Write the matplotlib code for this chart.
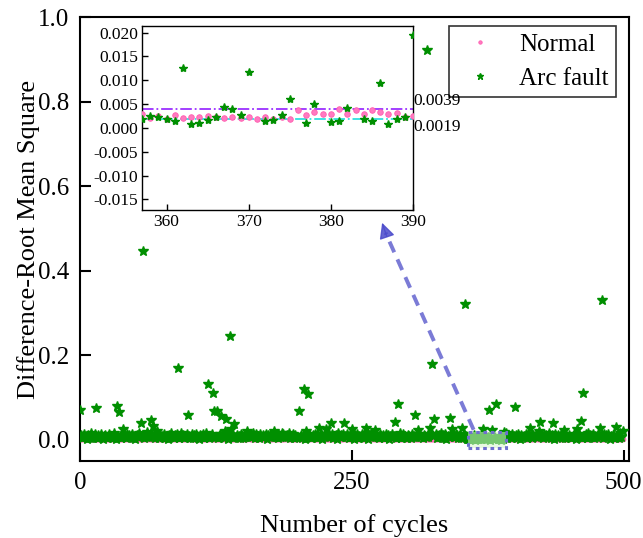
import numpy as np
import matplotlib
matplotlib.use("Agg")
import matplotlib.pyplot as plt
from matplotlib.patches import Rectangle

plt.rcParams['font.family'] = ['Liberation Serif', 'DejaVu Serif']
plt.rcParams['axes.unicode_minus'] = False

# ---------------- data ----------------
# Arc fault baseline, in units of 0.001 (cycles 0..499)
arc_base_milli = [
    6,11,4,9,14,7,3,12,8,5,16,10,4,7,13,9,5,11,6,15,8,3,10,12,7,
    4,9,13,6,10,5,17,8,3,11,7,14,9,5,12,6,10,4,15,8,11,6,9,13,5,
    8,3,12,7,16,10,5,9,14,4,11,7,18,6,9,3,13,8,10,5,12,15,7,4,11,
    9,6,14,5,10,8,3,12,7,16,9,4,11,6,13,8,5,10,17,7,12,4,9,14,6,
    10,5,8,13,4,11,7,15,9,3,12,6,10,14,5,8,16,7,11,4,9,13,6,10,8,
    7,12,5,9,15,6,11,4,13,8,10,3,14,7,9,12,5,16,8,11,6,10,4,13,9,
    5,10,7,14,3,12,8,11,6,16,9,4,13,7,10,5,15,8,12,6,9,14,3,11,7,
    12,6,9,4,13,8,15,5,11,7,10,3,14,9,6,12,8,17,5,10,7,13,4,11,8,
    6,14,8,11,5,9,12,3,16,7,10,13,4,8,11,6,15,9,5,12,7,10,14,3,9,
    9,4,11,7,15,6,10,13,5,8,12,3,16,9,6,11,7,14,4,10,8,13,5,12,6,
    11,7,3,12,8,14,5,10,6,15,9,4,13,7,11,3,12,8,16,6,10,5,14,9,7,
    4,13,9,6,11,5,15,8,12,3,10,7,14,6,9,12,4,11,8,16,5,10,13,7,9,
    8,5,12,10,4,14,7,9,13,6,11,3,15,8,10,5,12,9,6,14,7,11,4,13,8,
    10,7,14,4,9,12,6,16,8,11,5,13,3,10,7,15,9,4,12,8,6,14,11,5,9,
    5,12,8,15,6,10,3,13,9,7,11,14,4,8,16,6,10,12,5,9,13,7,11,4,10,
    13,6,10,4,12,8,15,5,11,9,3,14,7,10,6,12,8,16,4,11,9,5,13,7,10,
    7,11,5,14,9,3,12,8,10,6,15,4,11,13,7,9,5,12,10,6,14,8,3,11,9,
    9,4,13,7,11,6,16,10,5,12,8,3,14,9,6,11,7,13,5,10,15,4,12,8,6,
    12,8,5,10,14,7,3,11,9,15,6,12,4,10,8,13,5,16,7,11,6,9,14,4,10,
    6,10,13,5,9,12,4,15,8,11,7,14,3,10,6,12,9,5,13,8,11,4,16,7,10,
]

# Normal baseline, in units of 0.0001 (cycles 0..499)
normal_base_tenth_milli = [
    25,31,22,28,35,19,27,33,24,30,21,29,36,23,26,32,20,28,34,25,22,30,27,24,31,
    29,23,33,26,20,31,25,37,22,28,34,24,30,19,27,32,26,23,35,28,21,29,33,25,27,
    22,30,26,34,24,28,19,32,27,23,36,25,29,21,31,26,33,24,28,20,30,35,23,27,29,
    31,24,28,21,33,27,25,30,22,35,26,29,23,32,20,28,34,25,27,31,22,26,30,24,33,
    26,34,23,29,25,31,20,27,36,24,30,22,28,33,25,19,32,27,23,29,35,26,21,30,28,
    28,22,31,25,34,27,23,30,19,33,26,29,24,36,21,28,31,25,27,22,30,34,26,23,29,
    24,32,27,20,29,35,25,28,22,31,26,33,23,27,30,21,34,28,24,29,25,32,20,27,31,
    30,26,21,33,27,24,31,25,36,22,28,19,32,26,29,34,23,27,30,25,21,31,28,24,33,
    23,29,34,26,22,30,27,20,33,28,24,31,25,35,21,29,26,32,23,28,34,22,30,27,25,
    32,25,28,23,31,26,35,21,27,30,24,29,33,22,28,25,31,19,34,26,23,30,27,32,24,
    27,33,24,30,21,28,32,26,23,35,29,22,27,31,25,34,20,28,26,30,24,33,29,22,28,
    21,28,30,25,33,24,27,31,20,29,36,23,26,30,28,22,32,25,29,24,31,27,35,23,26,
    29,24,32,27,23,30,26,34,22,28,25,31,21,33,27,24,30,26,35,22,29,25,32,28,23,
    25,31,22,29,34,26,20,30,27,24,32,28,23,35,26,30,22,27,31,25,28,33,21,29,26,
    30,23,27,33,25,29,21,32,26,24,31,28,22,34,27,25,30,23,29,26,33,20,28,31,24,
    26,32,24,28,30,22,35,27,25,29,23,31,27,20,33,26,29,24,32,28,22,30,25,34,27,
    33,27,29,22,26,31,24,28,34,21,30,25,28,32,23,27,31,26,22,29,35,24,27,30,25,
    22,29,25,31,27,23,33,26,30,24,28,35,21,27,32,25,29,23,30,26,24,31,28,22,33,
    28,24,34,26,21,30,27,32,25,29,22,33,28,24,31,26,20,29,34,27,25,30,23,28,26,
    31,26,23,29,33,25,28,22,30,27,35,24,29,26,21,32,27,30,24,28,33,25,22,29,27,
]

# Arc fault outliers (cycle, value)
arc_outlier_x = [0, 15, 34, 36, 40, 56, 58, 65, 67, 71, 90, 99, 118, 122, 123, 126,
                 130, 133, 134, 138, 139, 142, 154, 178, 186, 201, 206, 208, 210,
                 220, 226, 231, 243, 250, 263, 271, 290, 292, 308, 311, 319, 322,
                 324, 326, 340, 342, 351, 354, 400, 414, 422, 423, 435, 445, 457,
                 461, 463, 478, 480, 493, 499]
arc_outlier_y = [0.071, 0.076, 0.081, 0.067, 0.025, 0.039, 0.448, 0.047, 0.032, 0.022,
                 0.170, 0.060, 0.132, 0.112, 0.069, 0.069, 0.057, 0.020, 0.049, 0.247,
                 0.025, 0.037, 0.020, 0.022, 0.017, 0.069, 0.121, 0.020, 0.108,
                 0.029, 0.025, 0.041, 0.040, 0.025, 0.028, 0.024, 0.043, 0.085, 0.059,
                 0.024, 0.923, 0.029, 0.180, 0.050, 0.053, 0.025, 0.028, 0.322, 0.077,
                 0.028, 0.021, 0.043, 0.040, 0.024, 0.025, 0.045, 0.112, 0.028, 0.331,
                 0.030, 0.020]

# Zoomed window (cycles 357..390)
zoom_start = 357
normal_zoom = [0.0030, 0.0021, 0.0025, 0.0019, 0.0028, 0.0022, 0.0024, 0.0023, 0.0025,
               0.0024, 0.0020, 0.0024, 0.0021, 0.0023, 0.0018, 0.0024, 0.0019, 0.0024,
               0.0018, 0.0037, 0.0028, 0.0034, 0.0029, 0.0030, 0.0039, 0.0030, 0.0037,
               0.0030, 0.0038, 0.0034, 0.0029, 0.0031, 0.0024, 0.0025]
arc_zoom = [0.0018, 0.0025, 0.0023, 0.0018, 0.0015, 0.0125, 0.0008, 0.0011, 0.0016,
            0.0024, 0.0043, 0.0039, 0.0028, 0.0118, 0.0270, 0.0015, 0.0017, 0.0027,
            0.0061, 0.0710, 0.0010, 0.0051, 0.0240, 0.0013, 0.0015, 0.0042, 0.0850,
            0.0018, 0.0015, 0.0094, 0.0008, 0.0018, 0.0024, 0.0195]
upper_level = 0.0039
lower_level = 0.0019

# assemble series
arc = np.array(arc_base_milli, dtype=float) / 1000.0
normal = np.array(normal_base_tenth_milli, dtype=float) / 10000.0
arc[np.array(arc_outlier_x)] = arc_outlier_y
idx = np.arange(zoom_start, zoom_start + len(arc_zoom))
arc[idx] = arc_zoom
normal[idx] = normal_zoom
cycles = np.arange(len(arc))

# ---------------- figure ----------------
fig = plt.figure(figsize=(6.43, 5.38), dpi=100)
ax = fig.add_axes([0.1244, 0.143, 0.854, 0.825])

pink = '#ff5cb0'
green = '#008f00'

ax.plot(cycles, normal, 'o', ls='none', ms=3.5, mfc='#ff7ac0', mec=pink, mew=0.6,
        label='Normal', zorder=2)
ax.plot(cycles, arc, '*', ls='none', ms=7, color=green, label='Arc fault', zorder=3)

ax.set_xlim(0, 505)
ax.set_ylim(-0.05, 1.0)
ax.set_xticks([0, 250, 500])
ax.set_yticks([0.0, 0.2, 0.4, 0.6, 0.8, 1.0])
ax.set_yticklabels(['0.0', '0.2', '0.4', '0.6', '0.8', '1.0'])
ax.tick_params(direction='in', length=8, width=1.5, labelsize=18, pad=8)
for s in ax.spines.values():
    s.set_linewidth(1.5)
ax.set_xlabel('Number of cycles', fontsize=19, labelpad=14)
ax.set_ylabel('Difference-Root Mean Square', fontsize=19)
ax.yaxis.set_label_coords(-0.072, 0.5)

leg = ax.legend(loc='upper right', bbox_to_anchor=(0.976, 0.980), fontsize=18,
                frameon=True, fancybox=False, edgecolor='black',
                handletextpad=0.6, borderaxespad=0.0, handlelength=1.9,
                labelspacing=0.45, borderpad=0.3, markerscale=0.7)
leg.get_frame().set_linewidth(1.2)

# highlight rectangle
ax.add_patch(Rectangle((357, -0.019), 35, 0.038, facecolor='#d8f5cc', alpha=0.55,
                       edgecolor='none', zorder=4))
ax.add_patch(Rectangle((357, -0.019), 35, 0.038, facecolor='none',
                       edgecolor='#6f6fcf', lw=2.2, ls=(0, (1.2, 1.2)), zorder=5))

# dashed arrow
ax.plot([362, 281], [0.024, 0.49], ls=(0, (3, 2)), lw=2.8, color='#7b7bd6', zorder=5,
        solid_capstyle='butt')
ax.annotate('', xy=(277, 0.52), xytext=(283, 0.475),
            arrowprops=dict(arrowstyle='-|>', color='#4a4acb', lw=1.0,
                            mutation_scale=24, alpha=0.85), zorder=6)

# ---------------- inset ----------------
axin = fig.add_axes([0.2208, 0.6097, 0.4215, 0.342])
axin.plot(idx, normal_zoom, 'o', ls='none', ms=4, mfc='#ff7ac0', mec=pink, mew=0.6,
          zorder=3)
axin.plot(idx, arc_zoom, '*', ls='none', ms=6, color=green, zorder=4)
axin.axhline(upper_level, color='#9b30ff', ls='-.', lw=1.3, zorder=2)
axin.axhline(lower_level, color='#30e0e0', ls='-.', lw=1.3, zorder=2)
axin.set_xlim(357, 390)
axin.set_ylim(-0.0172, 0.0214)
axin.set_xticks([360, 370, 380, 390])
axin.set_yticks([-0.015, -0.010, -0.005, 0.000, 0.005, 0.010, 0.015, 0.020])
axin.set_yticklabels(['-0.015', '-0.010', '-0.005', '0.000', '0.005', '0.010',
                      '0.015', '0.020'])
axin.tick_params(direction='in', length=4, width=1.0, labelsize=12.5, pad=3)
for s in axin.spines.values():
    s.set_linewidth(1.0)
axin.text(1.003, upper_level, '0.0039', transform=axin.get_yaxis_transform(),
          fontsize=12.5, va='bottom', ha='left')
axin.text(1.003, lower_level, '0.0019', transform=axin.get_yaxis_transform(),
          fontsize=12.5, va='top', ha='left')

fig.savefig('out.png', dpi=100)
